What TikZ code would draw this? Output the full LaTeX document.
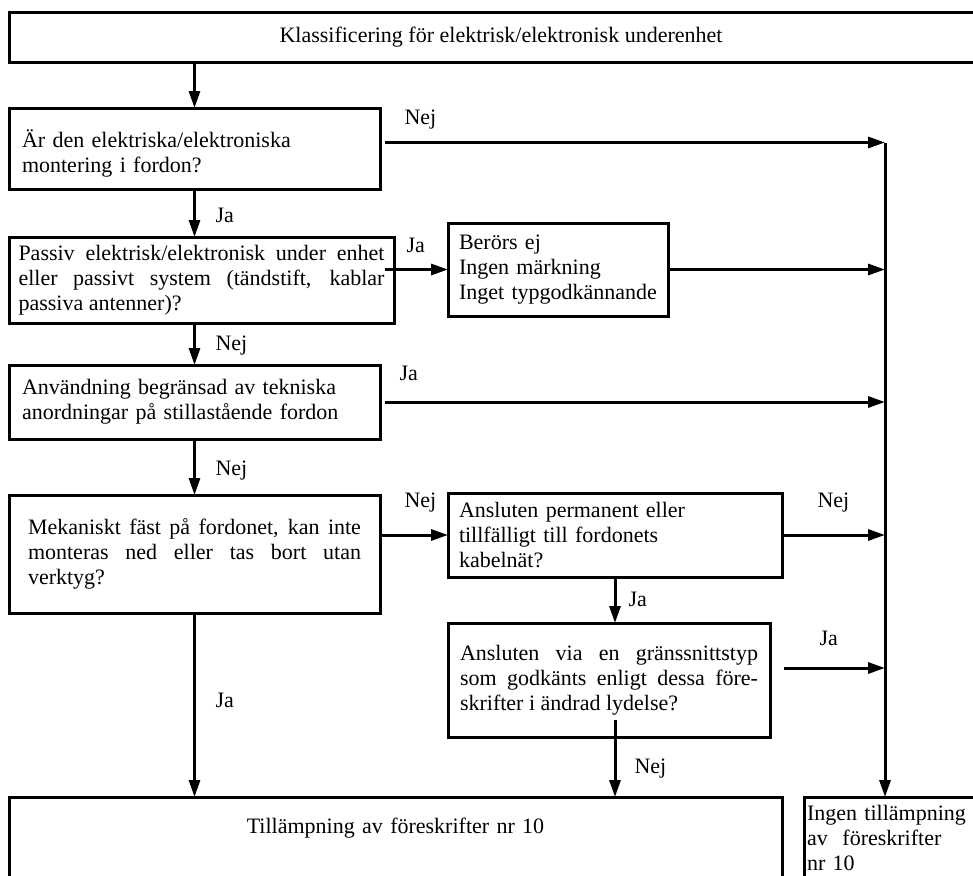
\documentclass[tikz,border=0pt]{standalone}
\usepackage{fontspec}
\setmainfont{Liberation Serif}
\usetikzlibrary{arrows.meta,calc}
\newcommand{\boxfont}{\fontsize{22}{25}\selectfont}
\tikzset{
	>={Triangle[length=17pt,width=11pt]},
	box/.style={
		rectangle,
		draw=black, line width=3pt,
		outer sep=0pt,
		anchor=north west,
		font=\boxfont},
	line/.style={draw, line width=3pt, ->},
	lbl/.style={anchor=base west, inner sep=0pt, font=\boxfont},
}

\begin{document}
\begin{tikzpicture}
	[x=1pt, y=-1pt]
	\useasboundingbox (0,0) rectangle (973,875);
	\clip (0,0) rectangle (973,875);
	% boxes
	\node[box, minimum width=984, minimum height=49, align=center] (head) at (9,13) {Klassificering för elektrisk/elektronisk underenhet};
	\node[box, minimum width=371, minimum height=81, text width=345, text height=28pt, align=left] (q1) at (9,108) {Är den elektriska/elektroniska\\montering i fordon?};
	\node[box, minimum width=385, minimum height=86, text width=366, align=justify] (q2) at (9,237) {Passiv elektrisk/elektronisk under enhet\linebreak eller passivt system (tändstift, kablar\linebreak passiva antenner)?};
	\node[box, minimum width=220, minimum height=93, text width=198, align=left] (skip) at (448,223) {Berörs ej\\Ingen märkning\\Inget typgodkännande};
	\node[box, minimum width=371, minimum height=74, text width=345, align=left] (q3) at (9,365) {Användning begränsad av tekniska\\anordningar på stillastående fordon};
	\node[box, minimum width=371, minimum height=118, text width=333, align=justify] (q4) at (9,495) {Mekaniskt fäst på fordonet, kan inte\linebreak monteras ned eller tas bort utan\linebreak verktyg?};
	\node[box, minimum width=334, minimum height=84, text width=312, align=left] (q5) at (448,493) {Ansluten permanent eller\\tillfälligt till fordonets\\kabelnät?};
	\node[box, minimum width=322, minimum height=114, text width=298, align=justify] (q6) at (448,623) {Ansluten via en gränssnittstyp\linebreak som godkänts enligt dessa före-\linebreak skrifter i ändrad lydelse?};
	\node[box, minimum width=773, text width=740, align=center, inner ysep=21pt, text depth=80pt] (apply) at (9,797) {Tillämpning av föreskrifter nr 10};
	\node[box, minimum width=190, text width=184, inner xsep=3pt, inner ysep=8pt, align=left] (noapply) at (804,797) {Ingen tillämpning\\av~~föreskrifter\\nr 10};
	% right-hand collector
	\coordinate (bus) at (885,142.5);
	\draw[line] (bus) -- (bus |- noapply.north);
	% connectors
	\draw[line] (head.south -| q1.north) -- (q1.north);
	\draw[line] ([shift={(5,-6)}]q1.east) coordinate (s1) -- (s1 -| bus)
		node[lbl, at start, xshift=18pt, yshift=18.5pt] (l1) {Nej};
	\draw[line] (q1.south) -- (q2.north -| q1.south)
		node[lbl, at start, xshift=19.5pt, yshift=-33pt] (l2) {Ja};
	\draw[line] ($(q2.east |- skip.west)+(-9,0)$) -- (skip.west)
		node[lbl, at start, xshift=20pt, yshift=17.5pt] (l3) {Ja};
	\draw[line] (skip.east) -- (skip.east -| bus);
	\draw[line] (q2.south -| q1.south) -- (q3.north)
		node[lbl, at start, xshift=19.5pt, yshift=-27pt] (l4) {Nej};
	\draw[line] ([xshift=5pt]q3.east) -- (q3.east -| bus)
		node[lbl, at start, xshift=13pt, yshift=22pt] (l5) {Ja};
	\draw[line] (q3.south) -- (q4.north)
		node[lbl, at start, xshift=19.5pt, yshift=-36pt] (l6) {Nej};
	\draw[line] (q5.west -| q4.east) -- (q5.west)
		node[lbl, at start, xshift=23pt, yshift=28pt] (l7) {Nej};
	\draw[line] (q5.east) -- (q5.east -| bus)
		node[lbl, at start, xshift=34pt, yshift=28pt] (l8) {Nej};
	\draw[line] (q5.south) -- (q5.south |- q6.north)
		node[lbl, at start, xshift=12pt, yshift=-29pt] (l9) {Ja};
	\draw[line] ([shift={(14,-12)}]q6.east) coordinate (s2) -- (s2 -| bus)
		node[lbl, at start, xshift=34pt, yshift=23pt] (l10) {Ja};
	\draw[line] ([shift={(6,-17)}]q6.south) coordinate (s3) -- (s3 |- apply.north)
		node[lbl, at start, xshift=18pt, yshift=-53pt] (l11) {Nej};
	\draw[line] (q4.south) -- (q4.south |- apply.north)
		node[lbl, at start, xshift=19.5pt, yshift=-94pt] (l12) {Ja};
\end{tikzpicture}
\end{document}
